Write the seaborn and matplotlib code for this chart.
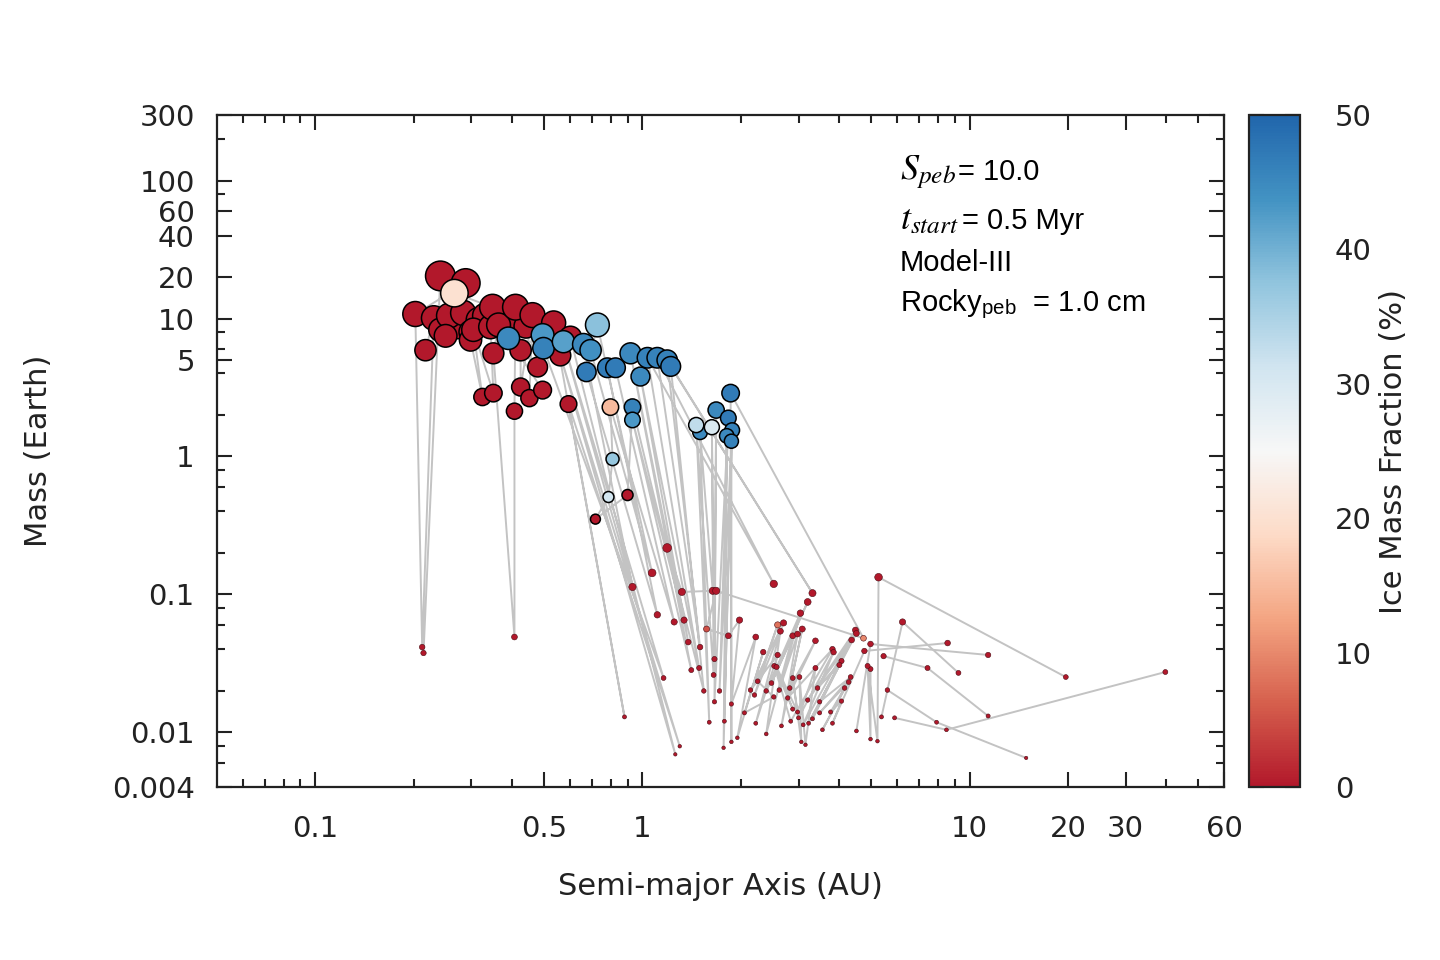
import numpy as np
import pandas as pd
import matplotlib
matplotlib.use("Agg")
import matplotlib.pyplot as plt
import matplotlib.colors as mcolors
from matplotlib.ticker import FixedLocator, NullFormatter, FixedFormatter
import seaborn as sns

# ---------------- data (path order: polyline vertices) ----------------
sma = [
    0.214, 0.241, 0.288, 0.202, 0.212, 0.230, 0.217, 0.241, 0.272,
    0.256, 0.283, 0.250, 0.315, 0.330, 0.375, 0.392, 0.440, 0.520, 0.548, 0.298,
    0.298,
    0.324, 0.304, 0.350, 0.343, 0.348, 0.266, 0.363, 0.350, 0.406, 0.406,
    0.409, 0.424, 0.424, 0.461, 0.451, 0.495, 0.389, 0.478, 0.535, 0.881,
    0.594, 1.30, 0.561, 1.26, 0.602, 0.495, 0.498, 1.16, 0.573, 0.932,
    0.66, 0.694, 1.07, 0.728, 0.674, 1.11, 0.781, 0.827, 1.25, 0.798,
    0.810, 0.787, 0.718, 0.90, 0.932, 1.34, 0.932, 1.41, 0.919, 1.38,
    0.986, 1.49, 1.036, 2.52, 1.11, 1.50, 1.19, 3.31, 1.22, 1.54,
    1.19, 1.32, 1.64, 1.50, 1.60, 1.46, 1.65, 1.63, 1.66, 1.68,
    1.66, 1.83, 1.72, 1.88, 1.77, 1.81, 1.78, 1.87, 1.87, 1.86,
    4.74, 1.68, 1.57, 1.83, 1.98, 1.87, 2.22, 1.95, 2.34, 2.05,
    2.52, 2.25, 2.59, 2.20, 2.70, 2.14, 2.59, 2.22, 2.64, 2.39,
    2.88, 2.48, 3.20, 2.39, 3.04, 2.62, 2.98, 2.66, 3.08, 2.82,
    3.38, 2.78, 3.81, 2.84, 2.53, 2.88, 2.57, 2.98, 2.88, 3.06,
    3.02, 3.15, 3.38, 3.00, 3.84, 3.10, 4.48, 3.20, 4.51, 3.22,
    4.36, 3.31, 4.06, 3.43, 4.00, 3.48, 4.33, 3.48, 4.27, 3.55,
    4.15, 3.76, 4.06, 3.81, 4.77, 8.57,
    5.38, 6.24, 9.25,
    4.51, 4.98, 11.4,
    4.98, 4.98, 4.88, 5.23, 5.27, 19.7,
    5.46, 7.44, 11.4,
    5.61, 7.93, 14.9,
    5.90, 8.50, 39.7,
]
mass = [
    0.0375, 20.4, 18.1, 10.8, 0.0414, 10.1, 5.9, 8.3, 8.7,
    10.5, 11.0, 7.5, 9.8, 10.5, 10.8, 9.2, 8.8, 7.2, 6.3, 8.0,
    7.0,
    2.70, 8.3, 2.88, 8.7, 12.1, 15.3, 9.0, 5.6, 0.049, 2.13,
    12.1, 5.9, 3.19, 10.6, 2.65, 3.03, 7.2, 4.45, 9.3, 0.0129,
    2.40, 0.0079, 5.4, 0.0069, 7.3, 7.6, 6.1, 0.0247, 6.8, 0.113,
    6.5, 5.9, 0.143, 9.0, 4.1, 0.071, 4.4, 4.4, 0.063, 2.28,
    0.957, 0.508, 0.351, 0.525, 2.28, 0.065, 1.84, 0.0282, 5.6, 0.045,
    3.8, 0.0292, 5.2, 0.119, 5.2, 0.0414, 5.0, 0.102, 4.5, 0.0199,
    0.217, 0.104, 0.106, 1.50, 0.0118, 1.69, 0.026, 1.63, 0.0339, 2.17,
    0.0166, 1.9, 0.0199, 1.55, 0.0077, 1.41, 0.012, 1.29, 0.0085, 2.88,
    0.048, 0.106, 0.056, 0.050, 0.065, 0.016, 0.049, 0.0091, 0.0381, 0.0138,
    0.018, 0.0234, 0.060, 0.0186, 0.062, 0.0202, 0.0363, 0.0116, 0.054, 0.0097,
    0.050, 0.0227, 0.088, 0.0199, 0.073, 0.0202, 0.0515, 0.0111, 0.056, 0.0209,
    0.046, 0.0177, 0.040, 0.012, 0.0302, 0.0147, 0.0297, 0.014, 0.0247, 0.0085,
    0.0251, 0.0081, 0.0292, 0.0127, 0.038, 0.0113, 0.055, 0.0171, 0.052, 0.0116,
    0.0466, 0.0125, 0.0328, 0.0209, 0.0307, 0.0166, 0.0251, 0.0138, 0.0231, 0.0104,
    0.0209, 0.014, 0.0168, 0.0116, 0.0388, 0.0443,
    0.0129, 0.063, 0.0269,
    0.0102, 0.0436, 0.0363,
    0.0287, 0.0089, 0.0302, 0.0086, 0.133, 0.0251,
    0.0356, 0.0292, 0.0131,
    0.0202, 0.0118, 0.0065,
    0.0127, 0.0104, 0.0273,
]
ice = [
    0, 0, 0, 0, 0, 0, 0, 0, 0,
    0, 0, 0, 0, 0, 0, 0, 0, 0, 0, 0,
    0,
    0, 0, 0, 0, 0, 20, 0, 0, 0, 0,
    0, 0, 0, 0, 0, 0, 45, 0, 0, 0,
    0, 0, 0, 0, 0, 43, 46, 0, 42, 0,
    45, 44, 0, 38, 47, 0, 47, 47, 0, 15,
    37, 31, 0, 0, 46, 0, 43, 0, 45, 0,
    45, 0, 46, 0, 46, 0, 46, 0, 47, 0,
    0, 0, 0, 45, 0, 33, 0, 30, 0, 45,
    0, 47, 0, 46, 0, 45, 0, 46, 0, 47,
    10, 0, 5, 0, 0, 0, 0, 0, 0, 0,
    0, 0, 8, 0, 0, 0, 0, 0, 0, 0,
    0, 0, 0, 0, 0, 0, 0, 0, 0, 0,
    0, 0, 0, 0, 0, 0, 0, 0, 0, 0,
    0, 0, 0, 0, 0, 0, 0, 0, 0, 0,
    0, 0, 0, 0, 0, 0, 0, 0, 0, 0,
    0, 0, 0, 0, 0, 0,
    0, 0, 0,
    0, 0, 0,
    0, 0, 0, 0, 0, 0,
    0, 0, 0,
    0, 0, 0,
    0, 0, 0,
]
track = [1] * 167 + [2] * 3 + [3] * 3 + [4] * 6 + [5] * 3 + [6] * 3 + [7] * 3

x_major = [0.1, 0.5, 1, 10, 20, 30, 60]
x_major_labels = ["0.1", "0.5", "1", "10", "20", "30", "60"]
x_minor = [0.06, 0.07, 0.08, 0.09, 0.2, 0.3, 0.4, 0.6, 0.7, 0.8, 0.9,
           2, 3, 4, 5, 6, 7, 8, 9, 40, 50]
y_major = [0.004, 0.01, 0.1, 1, 5, 10, 20, 40, 60, 100, 300]
y_major_labels = ["0.004", "0.01", "0.1", "1", "5", "10", "20", "40", "60", "100", "300"]
y_minor = [0.006, 0.008, 0.02, 0.04, 0.06, 0.08, 0.2, 0.4, 0.6, 0.8,
           2, 4, 6, 8, 80, 200]
cbar_ticks = [0, 10, 20, 30, 40, 50]
rdbu9 = ['#b2182b', '#d6604d', '#f4a582', '#fddbc7', '#f7f7f7',
         '#d1e5f0', '#92c5de', '#4393c3', '#2166ac']

# ---------------- style ----------------
sns.set_style("ticks")
plt.rcParams['font.family'] = ['DejaVu Sans']
plt.rcParams['mathtext.fontset'] = 'stix'
ink = '#222222'

df = pd.DataFrame(dict(a=sma, m=mass, ice=ice, track=track))
cmap = mcolors.LinearSegmentedColormap.from_list("rdbu9", rdbu9)

fig = plt.figure(figsize=(14.4, 9.6), dpi=100)
ax = fig.add_axes([217 / 1440, 1 - 787 / 960, 1007 / 1440, 672 / 960])
cax = fig.add_axes([1249 / 1440, 1 - 787 / 960, 51 / 1440, 672 / 960])

ax.set_xscale('log')
ax.set_yscale('log')

sns.lineplot(data=df, x='a', y='m', units='track', estimator=None, sort=False,
             color='#c3c3c3', lw=1.4, ax=ax, legend=False, zorder=1)

size_norm = mcolors.PowerNorm(gamma=0.54, vmin=0, vmax=25)
smax = 510
small = df[df.m < 0.3]
big = df[df.m >= 0.3]
sns.scatterplot(data=small, x='a', y='m', hue='ice', palette=cmap, hue_norm=(0, 50),
                size='m', sizes=(0, smax), size_norm=size_norm,
                edgecolor='#4a0c14', linewidth=0.4, legend=False, ax=ax, zorder=3)
sns.scatterplot(data=big, x='a', y='m', hue='ice', palette=cmap, hue_norm=(0, 50),
                size='m', sizes=(0, smax), size_norm=size_norm,
                edgecolor='black', linewidth=1.1, legend=False, ax=ax, zorder=4)

ax.set_xlim(0.05, 60)
ax.set_ylim(0.004, 300)

ax.xaxis.set_major_locator(FixedLocator(x_major))
ax.xaxis.set_major_formatter(FixedFormatter(x_major_labels))
ax.xaxis.set_minor_locator(FixedLocator(x_minor))
ax.xaxis.set_minor_formatter(NullFormatter())
ax.yaxis.set_major_locator(FixedLocator(y_major))
ax.yaxis.set_major_formatter(FixedFormatter(y_major_labels))
ax.yaxis.set_minor_locator(FixedLocator(y_minor))
ax.yaxis.set_minor_formatter(NullFormatter())

ax.tick_params(which='both', direction='in', top=True, right=True,
               width=1.5, color=ink, labelcolor=ink, labelsize=21)
ax.tick_params(which='major', length=11)
ax.tick_params(which='minor', length=5.5)
ax.tick_params(axis='x', which='major', pad=20)
ax.tick_params(axis='y', which='major', pad=16)
for sp in ax.spines.values():
    sp.set_linewidth(1.6)
    sp.set_color(ink)

ax.set_xlabel("Semi-major Axis (AU)", fontsize=22, color=ink)
ax.set_ylabel("Mass (Earth)", fontsize=22, color=ink)
ax.xaxis.set_label_coords(0.5, -0.127)
ax.yaxis.set_label_coords(-0.163, 0.5)

# annotations
tf = dict(transform=ax.transAxes, color='black', va='baseline')
ax.text(0.678, 0.904, r'$S_{peb}$', fontsize=26, **tf)
ax.text(0.736, 0.904, '= 10.0', fontsize=21, family='Liberation Sans', **tf)
ax.text(0.678, 0.830, r'$t_{start}$', fontsize=26, **tf)
ax.text(0.740, 0.830, '= 0.5 Myr', fontsize=21, family='Liberation Sans', **tf)
ax.text(0.678, 0.768, 'Model-III', fontsize=21, family='Liberation Sans', **tf)
ax.text(0.678, 0.708, r'Rocky$_{\mathregular{peb}}$  = 1.0 cm', fontsize=21,
        family='Liberation Sans', **tf)

# colorbar
sm = matplotlib.cm.ScalarMappable(norm=mcolors.Normalize(0, 50), cmap=cmap)
cbar = fig.colorbar(sm, cax=cax, ticks=cbar_ticks)
cbar.minorticks_off()
cbar.outline.set_linewidth(1.6)
cbar.outline.set_edgecolor(ink)
cax.tick_params(which='major', direction='in', length=11, width=1.5, color=ink,
                left=True, right=True, labelleft=False, labelright=True,
                pad=25, labelsize=21, labelcolor=ink)
cbar.set_label("Ice Mass Fraction (%)", fontsize=22, color=ink)
cax.yaxis.set_label_coords(2.55, 0.5)

fig.savefig("out.png", dpi=100)
